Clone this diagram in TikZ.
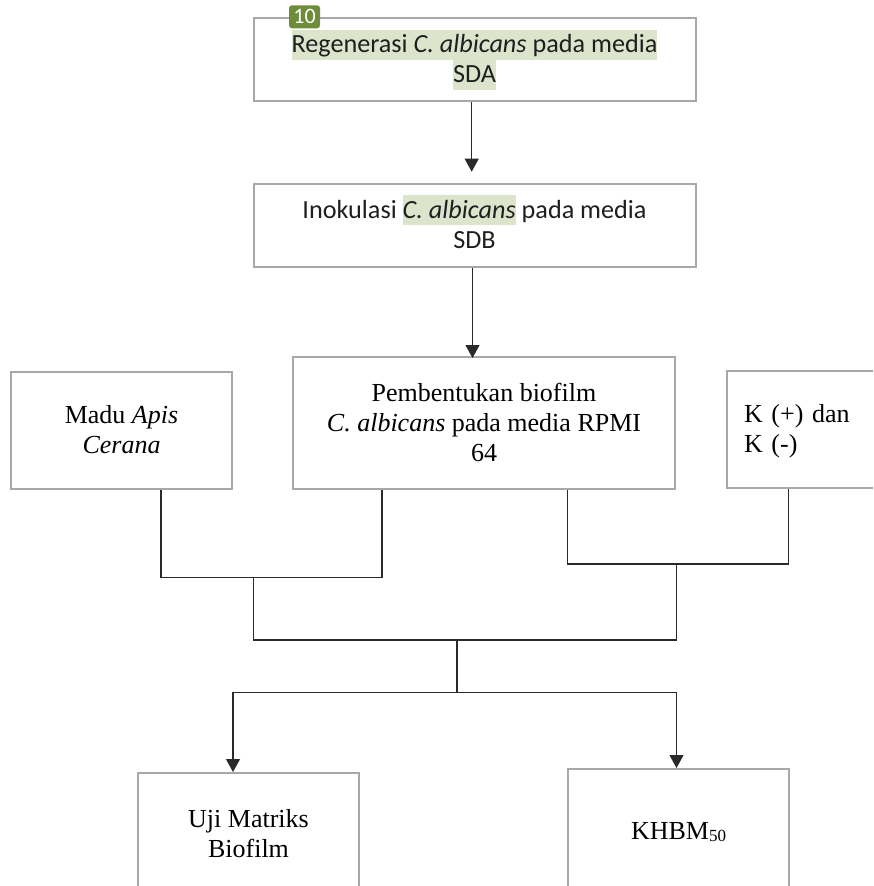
\documentclass[tikz,border=0pt]{standalone}
\usepackage{fontspec}
\setmainfont{Liberation Serif}
\newfontfamily\calfont{Carlito}
\usetikzlibrary{arrows.meta}
\definecolor{hlgreen}{HTML}{DCE5CC}
\definecolor{boxgray}{HTML}{A8A8A8}
\definecolor{badgegreen}{HTML}{6E8C3A}
\definecolor{linegray}{HTML}{2A2A2A}
\newcommand\stl{\rule[-7pt]{0pt}{30pt}}
\newcommand\hlt[1]{{\setlength{\fboxsep}{0pt}\colorbox{hlgreen}{\stl#1}}}
\tikzset{
  box/.style={draw=boxgray, line width=2pt, fill=white, inner sep=0pt, align=center},
  sansbox/.style={box, font=\calfont\fontsize{26.2}{30}\selectfont, text=black!88},
  serifbox/.style={box, font=\fontsize{26}{30}\selectfont},
  conn/.style={draw=linegray, line width=1.1pt},
  arr/.style={conn, -{Triangle[width=14pt,length=13pt]}},
  badge/.style={fill=badgegreen, rounded corners=3pt, text=white, inner sep=0pt,
    minimum width=31pt, minimum height=23pt, font=\calfont\fontsize{22}{24}\selectfont}
}
\begin{document}
\begin{tikzpicture}[x=1pt,y=-1pt]
\clip (0,0) rectangle (873,886);
\fill[white] (0,0) rectangle (873,886);

% top boxes
\node[sansbox, minimum width=442pt, minimum height=83pt] (regen) at (474.5,59.8)
  {\hlt{Regenerasi \textit{C. albicans} pada media}\\\hlt{SDA}};
\node[badge] (num) at (304.5,16.8) {10};
\node[sansbox, minimum width=442pt, minimum height=83pt] (inok) at (474.5,225)
  {Inokulasi \hlt{\textit{C. albicans}} pada media\stl\\SDB\stl};

% middle row
\node[serifbox, minimum width=382pt, minimum height=132pt] (pemb) at (484,423)
  {Pembentukan biofilm\stl\\\textit{C. albicans} pada media RPMI\stl\\64\stl};
\node[serifbox, minimum width=221pt, minimum height=117pt] (madu) at (121.5,430.5)
  {Madu \textit{Apis}\stl\\\textit{Cerana}\stl};
\node[serifbox, align=left, anchor=west, text width=140pt, inner xsep=17pt,
  minimum height=117pt] (kbox) at (726,429.5)
  {K (+) dan\stl\\K (-)\stl};

% bottom boxes
\node[serifbox, minimum width=221pt, minimum height=122pt] (uji) at (248.5,834)
  {Uji Matriks\stl\\Biofilm\stl};
\node[serifbox, minimum width=221pt, minimum height=124pt] (khbm) at (678.5,831)
  {KHBM{\fontsize{17}{20}\selectfont\raisebox{-2pt}{50}}\stl};

% arrows between top boxes
\coordinate (a1) at (471.7,171.7);
\draw[arr] (regen.south -| a1) -- (a1);
\coordinate (a2) at (472.5,358);
\draw[arr] (inok.south -| a2) -- (a2);

% joins from middle row
\coordinate (jA) at (161,577.5);
\coordinate (jB) at (382,577.5);
\coordinate (jAB) at (253.5,577.5);
\draw[conn] (madu.south -| jA) -- (jA) -- (jB) -- (pemb.south -| jB);
\coordinate (jC) at (567.5,564);
\coordinate (jD) at (788.5,564);
\coordinate (jCD) at (676.5,564);
\draw[conn] (pemb.south -| jC) -- (jC) -- (jD) -- (kbox.south -| jD);
\coordinate (h1) at (253.5,640);
\coordinate (h2) at (676.5,640);
\draw[conn] (jAB) -- (h1) -- (h2) -- (jCD);
\coordinate (m1) at (457,640);
\coordinate (m2) at (457,692.5);
\coordinate (bl) at (233,692.5);
\coordinate (br) at (676.5,692.5);
\draw[conn] (m1) -- (m2);
\draw[arr] (m2) -- (bl) -- (uji.north -| bl);
\draw[arr] (m2) -- (br) -- (khbm.north -| br);
\end{tikzpicture}
\end{document}
